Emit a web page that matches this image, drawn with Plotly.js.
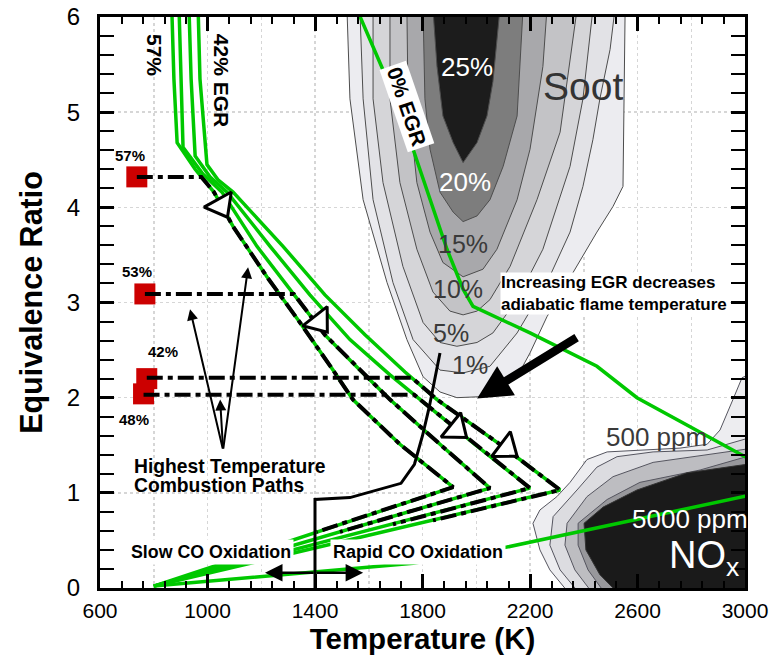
<!DOCTYPE html>
<html><head><meta charset="utf-8">
<script src="https://cdn.plot.ly/plotly-3.0.1.min.js"></script>
<style>html,body{margin:0;padding:0;background:#fff}#chart{width:773px;height:656px}</style>
</head><body><div id="chart"></div>
<script>
// ---------- soot contour regions (T [K], equivalence ratio) ----------
const soot1T = [1519,1530,1579,1668,1742,1802,1865,1928,2014,2077,2152,2200,2263,2323,2375,2449,2509,2546,2550,2554];
const soot1Phi = [6.08,5.14,4.08,3.21,2.61,2.22,2.06,2.00,2.01,2.05,2.22,2.47,2.85,3.14,3.38,3.74,4.01,4.22,5.14,6.08];
const soot2T = [1567,1579,1616,1690,1765,1865,1951,2051,2152,2263,2349,2397,2434,2460,2498,2516];
const soot2Phi = [6.08,5.14,4.08,3.21,2.61,2.29,2.26,2.33,2.68,3.21,3.74,4.22,4.71,5.14,5.66,6.08];
const soot5T = [1616,1616,1653,1727,1802,1865,1928,2003,2062,2152,2248,2349,2397,2434];
const soot5Phi = [6.08,5.14,4.26,3.38,2.79,2.58,2.54,2.58,2.68,3.03,3.56,4.43,5.14,6.08];
const soot10T = [1679,1679,1716,1779,1839,1902,1951,2003,2051,2126,2226,2312,2375];
const soot10Phi = [6.08,5.14,4.26,3.56,3.11,2.91,2.87,2.91,3.03,3.38,4.08,4.79,6.08];
const soot15T = [1742,1746,1779,1828,1876,1951,2025,2077,2152,2200,2248,2263];
const soot15Phi = [6.08,5.14,4.26,3.74,3.42,3.27,3.35,3.56,4.08,4.61,5.48,6.08];
const soot20T = [1802,1809,1828,1865,1914,1951,2003,2051,2100,2152,2174];
const soot20Phi = [6.08,5.14,4.61,4.16,3.95,3.85,3.91,4.08,4.43,4.96,6.08];
const soot25T = [1839,1854,1876,1914,1951,2003,2040,2062,2088];
const soot25Phi = [6.08,5.48,4.96,4.68,4.47,4.68,4.96,5.32,6.08];

// ---------- NOx contour regions ----------
const nox1T = [2367,2274,2237,2211,2237,2300,2349,2412,2487,2609,2758,2859,2907,2955,2989,3056,3056];
const nox1Phi = [-0.13,0.19,0.40,0.68,0.82,0.96,1.11,1.35,1.43,1.45,1.47,1.51,1.66,1.98,2.21,2.29,-0.13];
const nox2T = [2405,2312,2274,2286,2375,2449,2524,2658,2859,2993,3056,3056];
const nox2Phi = [-0.13,0.19,0.45,0.75,1.03,1.27,1.38,1.43,1.45,1.56,1.61,-0.13];
const nox3T = [2453,2367,2330,2338,2412,2509,2658,2993,3056,3056];
const nox3Phi = [-0.13,0.19,0.45,0.68,0.96,1.17,1.32,1.45,1.48,-0.13];
const nox4T = [2498,2416,2379,2379,2487,2609,2833,2993,3056,3056];
const nox4Phi = [-0.13,0.19,0.45,0.68,0.93,1.11,1.24,1.37,1.40,-0.13];
const nox5T = [2554,2460,2408,2401,2472,2598,2784,2993,3056,3056];
const nox5Phi = [-0.13,0.14,0.40,0.68,0.85,1.03,1.21,1.29,1.32,-0.13];

// ---------- adiabatic flame temperature curves (EGR %) ----------
const egr57T = [867,875,887,954,1024,1095,1221,1344,1467,1541,1716,1914,800];
const egr57Phi = [6.1,5.35,4.68,4.40,4.16,3.80,3.27,2.79,2.29,1.98,1.51,1.06,0.02];
const egr53T = [894,901,909,983,1054,1184,1307,1437,1567,1679,1865,2051,800];
const egr53Phi = [6.1,5.35,4.63,4.35,4.16,3.59,3.14,2.66,2.29,1.98,1.51,1.05,0.02];
const egr48T = [931,939,954,1009,1073,1233,1381,1530,1679,1791,1995,2200,800];
const egr48Phi = [6.1,5.35,4.54,4.32,4.16,3.59,3.08,2.61,2.24,1.98,1.51,1.05,0.02];
const egr42T = [965,972,998,1039,1095,1281,1437,1586,1735,1854,2088,2312,800];
const egr42Phi = [6.1,5.35,4.45,4.29,4.16,3.59,3.08,2.66,2.27,1.98,1.51,1.03,0.02];
const egr0UpperT = [1553,1567,1672,1765,1828,1891,1951,1988,2200,2449,2598,3000,3060];
const egr0UpperPhi = [6.1,6.01,5.32,4.61,4.08,3.56,3.14,2.96,2.68,2.33,2.00,1.38,1.31];
const egr0LowerT = [800,1400,1765,2114,2500,3000,3060];
const egr0LowerPhi = [0.02,0.17,0.26,0.43,0.66,0.96,1.00];

// ---------- highest temperature combustion paths ----------
const path57T = [737,977,1024,1095,1221,1344,1467,1541,1716,1914,1407];
const path57Phi = [4.32,4.32,4.16,3.80,3.27,2.79,2.29,1.98,1.51,1.06,0.59];
const path53T = [767,1321,1437,1567,1679,1865,2051,1493];
const path53Phi = [3.09,3.09,2.66,2.29,1.98,1.51,1.05,0.59];
const path48T = [762,1769,1791,1995,2200,1690];
const path48Phi = [2.03,2.03,1.98,1.51,1.05,0.67];
const path42T = [774,1760,1854,2088,2312,1839];
const path42Phi = [2.21,2.21,1.98,1.51,1.03,0.71];

// start points (red squares) and their labels
const startT = [737,767,774,762];
const startPhi = [4.32,3.09,2.20,2.04];
const startLabels = ['57%','53%','42%','48%'];
// direction triangles along paths
const dirT = [1050,1415,1925,2112];
const dirPhi = [4.02,2.80,1.67,1.47];
const dirAngle = [-29,-38,-51,-53];

// slow / rapid CO oxidation boundary
const boundT = [1400,1400,1530,1720,1770,1800,1825,1845,1865];
const boundPhi = [-0.05,0.93,0.95,1.10,1.30,1.60,1.90,2.20,2.47];

const FONT = 'Liberation Sans, Arial, Helvetica, sans-serif';
const GREEN = '#00c800';

function region(t, p, fill, lc) {
  return {type:'scatter', mode:'lines', x:t, y:p, fill:'toself', fillcolor:fill,
          line:{color:lc || '#4d4d4d', width:1}, hoverinfo:'skip', showlegend:false};
}
function line(t, p, color, width, dash) {
  return {type:'scatter', mode:'lines', x:t, y:p, line:{color:color, width:width, dash:dash || 'solid'},
          hoverinfo:'skip', showlegend:false};
}

const traces = [
  {type:'scatter', mode:'markers', x:[600], y:[0], xaxis:'x2', marker:{opacity:0}, hoverinfo:'skip', showlegend:false},
  region(soot1T, soot1Phi, '#ececf0'),
  region(soot2T, soot2Phi, '#e2e2e6'),
  region(soot5T, soot5Phi, '#d5d5d8'),
  region(soot10T, soot10Phi, '#c3c3c6'),
  region(soot15T, soot15Phi, '#a8a8ab'),
  region(soot20T, soot20Phi, '#7d7d7d'),
  region(soot25T, soot25Phi, '#1c1c1c'),
  region(nox1T, nox1Phi, '#ededf0', '#55555f'),
  region(nox2T, nox2Phi, '#dcdce0', '#55555f'),
  region(nox3T, nox3Phi, '#bdbdc1', '#55555f'),
  region(nox4T, nox4Phi, '#98989c', '#55555f'),
  region(nox5T, nox5Phi, '#1a1a1a', '#333333'),
  line(egr57T, egr57Phi, GREEN, 3.5),
  line(egr53T, egr53Phi, GREEN, 3.5),
  line(egr48T, egr48Phi, GREEN, 3.5),
  line(egr42T, egr42Phi, GREEN, 3.5),
  line(egr0UpperT, egr0UpperPhi, GREEN, 3.5),
  line(egr0LowerT, egr0LowerPhi, GREEN, 3.5),
  {type:'scatter', mode:'markers', x:startT, y:startPhi, hoverinfo:'skip', showlegend:false,
   marker:{symbol:'square', size:21, color:'#cc0000'}},
  line(path57T, path57Phi, 'black', 4, '16px,5px,5px,5px'),
  line(path53T, path53Phi, 'black', 4, '16px,5px,5px,5px'),
  line(path48T, path48Phi, 'black', 4, '16px,5px,5px,5px'),
  line(path42T, path42Phi, 'black', 4, '16px,5px,5px,5px'),
  line(boundT, boundPhi, 'black', 3),
  {type:'scatter', mode:'markers', x:dirT, y:dirPhi, hoverinfo:'skip', showlegend:false,
   marker:{symbol:'triangle-down', size:27, color:'white', angle:dirAngle, line:{color:'black', width:3}}}
];

function txt(x, y, text, size, color, extra) {
  return Object.assign({x:x, y:y, xref:'x', yref:'y', text:text, showarrow:false,
    font:{family:FONT, size:size, color:color || 'black'}}, extra || {});
}
function arrow(hx, hy, tx, ty, w, size) {
  return {x:hx, y:hy, ax:tx, ay:ty, xref:'x', yref:'y', axref:'x', ayref:'y', text:'',
    showarrow:true, arrowhead:2, arrowsize:size, arrowwidth:w, arrowcolor:'black'};
}

const annotations = [
  txt(2397, 5.27, 'Soot', 39, '#333333'),
  txt(1966, 5.47, '25%', 26, 'white'),
  txt(1958, 4.27, '20%', 26, 'white'),
  txt(1951, 3.61, '15%', 25, '#3a3a3a'),
  txt(1932, 3.14, '10%', 25, '#3a3a3a'),
  txt(1906, 2.68, '5%', 25, '#3a3a3a'),
  txt(1977, 2.34, '1%', 25, '#3a3a3a'),
  txt(2669, 1.59, '500 ppm', 26, '#3a3a3a'),
  txt(2572, 0.72, '5000 ppm', 26, 'white', {xanchor:'left'}),
  txt(2710, 0.32, 'NO<sub>x</sub>', 38, 'white', {xanchor:'left'}),
  txt(805, 5.6, '<b>57%</b>', 21, 'black', {textangle:90}),
  txt(1050, 5.33, '<b>42% EGR</b>', 21, 'black', {textangle:90}),
  txt(1742, 5.06, '<b>0% EGR</b>', 21, 'black', {textangle:71, bgcolor:'white', borderpad:2}),
  txt(712, 4.54, '<b>' + startLabels[0] + '</b>', 15),
  txt(738, 3.33, '<b>' + startLabels[1] + '</b>', 15),
  txt(834, 2.48, '<b>' + startLabels[2] + '</b>', 15),
  txt(727, 1.77, '<b>' + startLabels[3] + '</b>', 15),
  txt(719, 1.28, '<b>Highest Temperature</b>', 19.3, 'black', {xanchor:'left'}),
  txt(719, 1.08, '<b>Combustion Paths</b>', 19.3, 'black', {xanchor:'left'}),
  txt(2088, 3.09, '<b>Increasing EGR decreases<br>adiabatic flame temperature</b>', 17, 'black',
      {xanchor:'left', align:'left', bgcolor:'white', borderpad:0}),
  txt(704, 0.38, '<b>Slow CO Oxidation</b>', 17.8, 'black', {xanchor:'left', bgcolor:'white', borderpad:2}),
  txt(1455, 0.38, '<b>Rapid CO Oxidation</b>', 18, 'black', {xanchor:'left', bgcolor:'white', borderpad:2}),
  arrow(935, 2.93, 1058, 1.45, 2, 1.1),
  arrow(1151, 3.37, 1058, 1.45, 2, 1.1),
  arrow(1047, 1.98, 1058, 1.45, 2, 1.1),
  arrow(1214, 0.16, 1400, 0.16, 2.5, 1.4),
  arrow(1579, 0.16, 1400, 0.16, 2.5, 1.4),
  arrow(2003, 1.99, 2379, 2.64, 8.5, 0.8)
];

const axisCommon = {
  ticks:'inside', tickcolor:'black', tickwidth:3, ticklen:14,
  showline:true, linecolor:'black', linewidth:3, mirror:'allticks',
  zeroline:false, automargin:false, fixedrange:true, tickmode:'linear'
};

const layout = {
  width:773, height:656,
  margin:{l:100, r:28, t:17, b:68},
  paper_bgcolor:'white', plot_bgcolor:'white',
  showlegend:false,
  font:{family:FONT, color:'black'},
  xaxis: Object.assign({}, axisCommon, {
    range:[600,3000], tick0:600, dtick:400, showgrid:false,
    tickfont:{family:FONT, size:21, color:'black'}, ticklabelstandoff:2,
    minor:{tick0:600, dtick:80, ticks:'inside', ticklen:7, tickwidth:2, tickcolor:'black', showgrid:false},
    title:{text:'<b>Temperature (K)</b>', font:{family:FONT, size:29.5, color:'black'}, standoff:8}
  }),
  xaxis2: {overlaying:'x', anchor:'y', range:[600,3000], tickmode:'linear', tick0:600, dtick:200,
    showgrid:true, gridcolor:'#d6d6d6', griddash:'dot', gridwidth:1.5,
    showticklabels:false, ticks:'', showline:false, zeroline:false, fixedrange:true},
  yaxis: Object.assign({}, axisCommon, {
    range:[0,6], tick0:0, dtick:1,
    showgrid:true, gridcolor:'#d6d6d6', griddash:'dot', gridwidth:1.5,
    tickfont:{family:FONT, size:24, color:'black'}, ticklabelstandoff:12,
    minor:{tick0:0, dtick:0.2, ticks:'inside', ticklen:7, tickwidth:2, tickcolor:'black', showgrid:false},
    title:{text:'<b>Equivalence Ratio</b>', font:{family:FONT, size:30.5, color:'black'}, standoff:16}
  }),
  annotations: annotations
};

Plotly.newPlot('chart', traces, layout, {staticPlot:true, displayModeBar:false});
</script>
</body></html>
